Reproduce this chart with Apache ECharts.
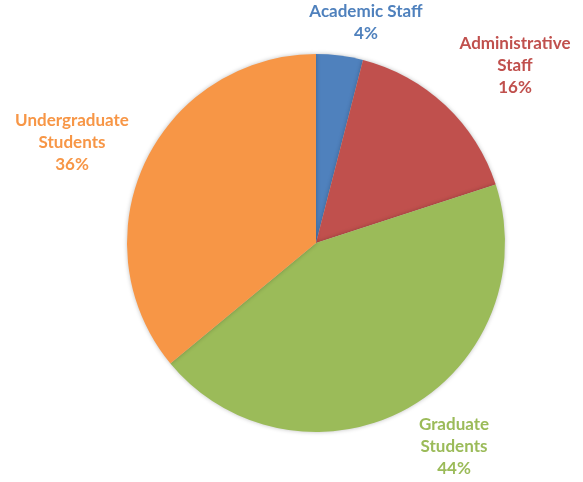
<!DOCTYPE html>
<html><head><meta charset="utf-8">
<script src="https://cdn.jsdelivr.net/npm/echarts@6/dist/echarts.min.js"></script>
<style>html,body{margin:0;padding:0;background:#fff}#c{width:583px;height:482px}</style>
</head><body><div id="c"></div>
<script>
const categories = ['Academic Staff', 'Administrative\nStaff', 'Graduate\nStudents', 'Undergraduate\nStudents'];
const values = [4, 16, 44, 36];
const colors = ['#4F81BD', '#C0504D', '#9BBB59', '#F79646'];
const labelPos = [[366, 23], [515, 66], [454, 447], [72, 143]];

const chart = echarts.init(document.getElementById('c'), null, {renderer: 'canvas'});
chart.setOption({
  animation: false,
  series: [{
    type: 'pie',
    center: [316, 243],
    radius: 189,
    startAngle: 90,
    clockwise: true,
    data: categories.map((n, i) => ({
      name: n, value: values[i],
      itemStyle: {color: colors[i]},
      label: {color: colors[i]}
    })),
    itemStyle: {borderWidth: 0, shadowBlur: 4, shadowColor: 'rgba(0,0,0,0.25)'},
    label: {
      show: true, position: 'outside', overflow: 'none',
      formatter: p => p.name + '\n' + Math.round(p.percent) + '%',
      fontFamily: 'Lato', fontWeight: 'bold', fontSize: 17, lineHeight: 22, align: 'center'
    },
    labelLine: {show: false},
    labelLayout: p => ({x: labelPos[p.dataIndex][0], y: labelPos[p.dataIndex][1], align: 'center', verticalAlign: 'middle'}),
    emphasis: {disabled: true}
  }]
});
</script></body></html>
